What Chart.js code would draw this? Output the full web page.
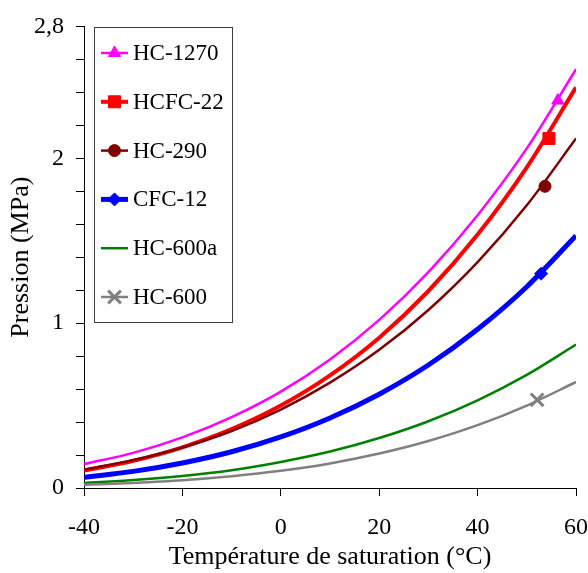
<!DOCTYPE html>
<html>
<head>
<meta charset="utf-8">
<script src="https://cdn.jsdelivr.net/npm/chart.js@4/dist/chart.umd.min.js"></script>
<style>
  html, body { margin: 0; padding: 0; background: #fff; }
  #wrap { width: 588px; height: 573px; }
  #pre { font-family: 'Liberation Serif'; position: absolute; left: -999px; }
</style>
</head>
<body>
<span id="pre">Température 0123456789</span>
<div id="wrap"><canvas id="grafico"></canvas></div>
<script>
// Températures de saturation (°C), un point tous les 10 °C
const temps = [-40, -30, -20, -10, 0, 10, 20, 30, 40, 50, 60];

// Pressions de saturation (MPa)
const hc1270 = [0.145, 0.213, 0.307, 0.430, 0.585, 0.780, 1.020, 1.310, 1.655, 2.060, 2.540];
const hcfc22 = [0.106, 0.165, 0.247, 0.357, 0.500, 0.683, 0.912, 1.195, 1.537, 1.945, 2.430];
const hc290  = [0.112, 0.169, 0.246, 0.346, 0.476, 0.639, 0.838, 1.080, 1.370, 1.715, 2.120];
const cfc12  = [0.065, 0.101, 0.152, 0.220, 0.310, 0.425, 0.569, 0.746, 0.963, 1.221, 1.530];
const hc600a = [0.030, 0.048, 0.073, 0.108, 0.158, 0.221, 0.303, 0.405, 0.532, 0.686, 0.870];
const hc600  = [0.019, 0.031, 0.047, 0.071, 0.104, 0.149, 0.209, 0.285, 0.381, 0.500, 0.643];

// Noms des fluides et position du repère sur chaque courbe
const noms    = ['HC-1270', 'HCFC-22', 'HC-290', 'CFC-12', 'HC-600a', 'HC-600'];
const repereT = [56.3, 54.5, 53.7, 52.9, null, 52.1];
const repereP = [2.35, 2.12, 1.83, 1.30, null, 0.535];

// Graduations étiquetées de l'axe des pressions
const yLabels = [0, 1, 2, 2.8];

// Style de chaque courbe (couleur, épaisseur, repère)
const styles = [
    { couleur: '#FF00FF', epaisseur: 2.5, forme: 'triangle', rayon: 7 },
    { couleur: '#FF0000', epaisseur: 4,   forme: 'rect',     rayon: 8.5 },
    { couleur: '#800000', epaisseur: 2.5, forme: 'circle',   rayon: 6 },
    { couleur: '#0000FF', epaisseur: 5,   forme: 'rectRot',  rayon: 6.5 },
    { couleur: '#008000', epaisseur: 2.5, forme: false,      rayon: 0 },
    { couleur: '#808080', epaisseur: 2.5, forme: 'crossRot', rayon: 9 }
];

const series = [hc1270, hcfc22, hc290, cfc12, hc600a, hc600];
const police = "'Liberation Serif', 'Times New Roman', serif";

// Une courbe lissée par fluide + un jeu "scatter" pour le repère
const datasets = [];
series.forEach((vals, i) => {
    const s = styles[i];
    datasets.push({
        type: 'line',
        label: noms[i],
        data: temps.map((t, k) => ({ x: t, y: vals[k] })),
        borderColor: s.couleur,
        borderWidth: s.epaisseur,
        pointRadius: 0,
        cubicInterpolationMode: 'monotone',
        fill: false,
        order: 10 - i
    });
    if (repereT[i] !== null) {
        datasets.push({
            type: 'scatter',
            label: noms[i] + ' repère',
            data: [{ x: repereT[i], y: repereP[i] }],
            pointStyle: s.forme,
            pointRadius: s.rayon,
            pointBorderWidth: s.forme === 'crossRot' ? 3 : 1,
            backgroundColor: s.couleur,
            borderColor: s.couleur,
            order: 0
        });
    }
});

// Légende encadrée dessinée dans la zone du graphique
const legendeCadre = {
    id: 'legendeCadre',
    afterDraw(chart) {
        const ctx = chart.ctx;
        ctx.save();
        ctx.strokeStyle = '#404040';
        ctx.lineWidth = 1;
        ctx.fillStyle = '#fff';
        ctx.fillRect(94.5, 27.5, 138, 295);
        ctx.strokeRect(94.5, 27.5, 138, 295);
        noms.forEach((nom, i) => {
            const s = styles[i];
            const y = 53 + i * 48.8;
            ctx.strokeStyle = s.couleur;
            ctx.fillStyle = s.couleur;
            ctx.lineWidth = s.epaisseur;
            ctx.beginPath();
            ctx.moveTo(101, y);
            ctx.lineTo(128, y);
            ctx.stroke();
            if (s.forme) {
                ctx.lineWidth = s.forme === 'crossRot' ? 3 : 1;
                Chart.helpers.drawPoint(ctx, { pointStyle: s.forme, radius: s.rayon, rotation: 0, borderWidth: ctx.lineWidth }, 114.5, y);
            }
            ctx.fillStyle = '#000';
            ctx.font = '23px ' + police;
            ctx.textBaseline = 'middle';
            ctx.fillText(nom, 133, y + 1);
        });
        ctx.restore();
    }
};

function dessiner() {
    new Chart(document.getElementById('grafico'), {
        data: { datasets: datasets },
        plugins: [legendeCadre],
        options: {
            responsive: true,
            maintainAspectRatio: false,
            animation: false,
            layout: { padding: { top: 22, right: 12, left: 0, bottom: 0 } },
            plugins: {
                legend: { display: false },
                tooltip: { enabled: false }
            },
            scales: {
                x: {
                    type: 'linear',
                    min: -40,
                    max: 60,
                    // hauteur fixe, et pas de marge latérale ajoutée pour les étiquettes
                    afterFit: sc => { sc.height = 85; sc.paddingLeft = 0; sc.paddingRight = 0; },
                    ticks: {
                        stepSize: 20,
                        color: '#000',
                        padding: 17,
                        maxRotation: 0,
                        font: { family: police, size: 24 }
                    },
                    grid: { drawOnChartArea: false, drawTicks: true, tickLength: 8, color: '#000' },
                    border: { color: '#000', width: 1 },
                    title: {
                        display: true,
                        text: 'Température de saturation (°C)',
                        color: '#000',
                        font: { family: police, size: 26 },
                        padding: { top: 0, bottom: 0 }
                    }
                },
                y: {
                    type: 'linear',
                    min: 0,
                    max: 2.8,
                    afterFit: sc => { sc.width = 84; },
                    ticks: {
                        stepSize: 0.2,
                        color: '#000',
                        padding: 12,
                        font: { family: police, size: 24 },
                        callback: v => {
                            const r = Math.round(v * 10) / 10;
                            return yLabels.includes(r) ? String(r).replace('.', ',') : '';
                        }
                    },
                    grid: { drawOnChartArea: false, drawTicks: true, tickLength: 8, color: '#000' },
                    border: { color: '#000', width: 1 },
                    title: {
                        display: true,
                        text: 'Pression (MPa)',
                        color: '#000',
                        font: { family: police, size: 26 },
                        padding: { top: 6, bottom: 0 }
                    }
                }
            }
        }
    });
}

document.fonts.load("22px 'Liberation Serif'").then(dessiner, dessiner);
</script>
</body>
</html>
